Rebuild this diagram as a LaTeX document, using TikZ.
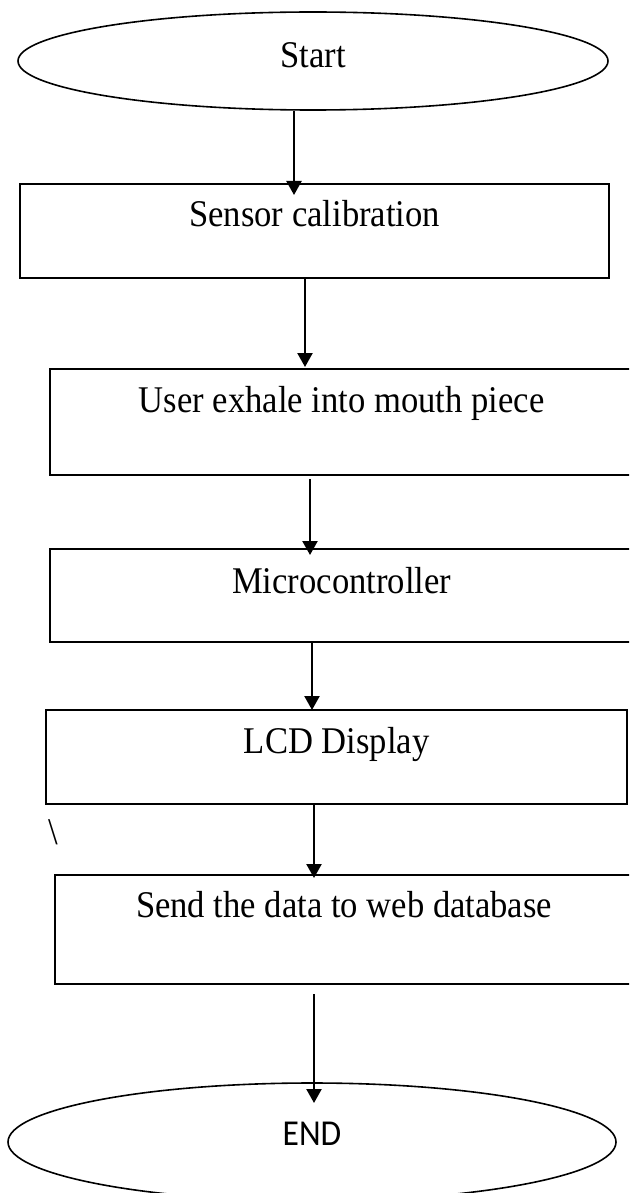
\documentclass[tikz,border=0pt]{standalone}
\usepackage{fontspec}
\setmainfont{Liberation Serif}
\newfontfamily\endfont{Carlito}
\usetikzlibrary{arrows.meta,shapes.geometric}
\newcommand{\tall}[1]{\scalebox{1}[1.09]{#1}}
\begin{document}
\begin{tikzpicture}[x=1pt,y=-1pt,
  box/.style={draw,line width=2.2pt,rectangle,inner sep=0pt,anchor=north west,
    font=\fontsize{34.6}{40}\selectfont},
  term/.style={draw,line width=1.6pt,ellipse,inner sep=0pt},
  arr/.style={line width=2.3pt,-{Triangle[width=15pt,length=14pt]}}]
\useasboundingbox (0,0) rectangle (629,1193);
\fill[white] (0,0) rectangle (629,1193);
\clip (0,0) rectangle (629,1193);

\node[term,minimum width=590pt,minimum height=98pt,text height=22pt,text depth=8pt,
  font=\fontsize{34.6}{40}\selectfont] (start) at (313,61) {\tall{Start}};

\node[box,minimum width=589pt,text height=42pt,text depth=52pt] (s1) at (19,183) {\tall{Sensor calibration}};
\node[box,minimum width=583pt,text height=43pt,text depth=63pt] (s2) at (49,368) {\tall{User exhale into mouth piece}};
\node[box,minimum width=583pt,text height=44pt,text depth=49pt] (s3) at (49,548) {\tall{Microcontroller}};
\node[box,minimum width=581pt,text height=43pt,text depth=51pt] (s4) at (45,709) {\tall{LCD Display}};
\node[box,minimum width=578pt,text height=42pt,text depth=67pt] (s5) at (54,874) {\tall{Send the data to web database}};

\node[anchor=base,inner sep=0pt,font=\fontsize{34.6}{40}\selectfont] (bs) at (53,844) {\tall{\textbackslash}};

\node[term,minimum width=608pt,minimum height=118pt,text height=18pt,text depth=12pt,
  font=\endfont\fontsize{33.5}{40}\selectfont] (end) at (312,1142) {\tall{END}};

\coordinate (t1) at (294,195);
\coordinate (t2) at (305,367);
\coordinate (f3) at (310,479);
\coordinate (t3) at (310,555);
\coordinate (t4) at (312,710);
\coordinate (t5) at (314,878);
\coordinate (f6) at (314,994);
\coordinate (t6) at (314,1103);

\draw[arr] (start.south -| t1) -- (t1);
\draw[arr] (s1.south -| t2) -- (t2);
\draw[arr] (f3) -- (t3);
\draw[arr] (s3.south -| t4) -- (t4);
\draw[arr] (s4.south -| t5) -- (t5);
\draw[arr] (f6) -- (t6);
\end{tikzpicture}
\end{document}
